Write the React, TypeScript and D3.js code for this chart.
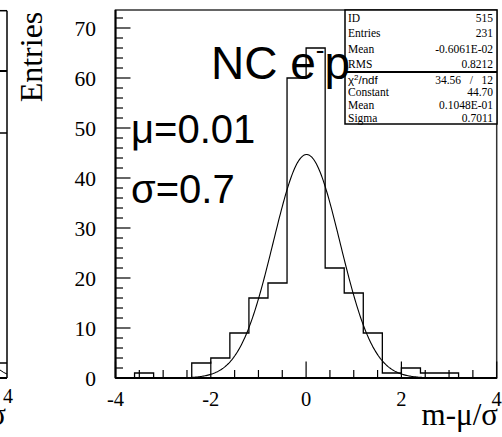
import React from "react";
import * as d3 from "d3";

const binLow = [-4.0, -3.6, -3.2, -2.8, -2.4, -2.0, -1.6, -1.2, -0.8, -0.4, 0.0, 0.4, 0.8, 1.2, 1.6, 2.0, 2.4, 2.8, 3.2, 3.6];
const counts = [0, 1, 0, 0, 3, 4, 9, 16, 19, 60, 66, 22, 17, 9, 1, 2, 1, 1, 0, 0];
const binWidth = 0.4;
const xTickLabels = [-4, -2, 0, 2, 4];
const yTickLabels = [0, 10, 20, 30, 40, 50, 60, 70];
const fitParams = [44.70, 0.01048, 0.7011];
const statLabels = ["ID", "Entries", "Mean", "RMS"];
const statValues = ["515", "231", "-0.6061E-02", "0.8212"];
const fitLabels = ["Constant", "Mean", "Sigma"];
const fitValues = ["44.70", "0.1048E-01", "0.7011"];

const SERIF = "'Liberation Serif', 'DejaVu Serif', serif";
const SANS = "'Liberation Sans', Arial, sans-serif";

export default function App() {
  const x = d3.scaleLinear().domain([-4, 4]).range([115.5, 496.7]);
  const y = d3.scaleLinear().domain([0, 73.6]).range([378, 10]);

  let histD = `M${x(-4)},${y(0)}`;
  binLow.forEach((lo, i) => {
    histD += `L${x(lo)},${y(counts[i])}L${x(lo + binWidth)},${y(counts[i])}`;
  });
  histD += `L${x(4)},${y(0)}`;

  const [C, mu, sig] = fitParams;
  const xs = d3.range(-4, 4.0001, 0.02);
  const gauss = d3
    .line<number>()
    .x((v) => x(v))
    .y((v) => y(C * Math.exp(-0.5 * ((v - mu) / sig) ** 2)));

  const xMinor = d3.range(-4, 4.0001, 0.5);
  const yMinor = d3.range(0, 73, 2);

  const boxL = 345, boxR = 497, boxT = 10, boxSep = 72, boxB = 124;
  const topRow = (boxSep - boxT) / 4;
  const botRow = (boxB - boxSep) / 4;
  const fs = 11.5;

  return (
    <svg width={502} height={437} style={{ position: "absolute", left: 0, top: 0, background: "#fff" }}>
      <rect x={0} y={0} width={502} height={437} fill="#fff" />
      {/* partial neighbouring panel */}
      <g stroke="#000" strokeWidth={1.5} fill="none">
        <line x1={7} y1={10.7} x2={7} y2={378} />
        <line x1={0} y1={10.7} x2={7} y2={10.7} />
        <line x1={0} y1={71} x2={7} y2={71} strokeWidth={2} />
        <line x1={0} y1={133} x2={7} y2={133} />
        <line x1={0} y1={363} x2={7} y2={363} />
        <line x1={0} y1={378} x2={7} y2={378} strokeWidth={2} />
        <path d="M0,370 Q4,373 7,374" strokeWidth={1} />
      </g>
      <text x={8} y={403} fontFamily={SERIF} fontSize={20} textAnchor="middle">4</text>
      <text x={6} y={425} fontFamily={SERIF} fontSize={31} textAnchor="end">m-μ/σ</text>

      {/* y title */}
      <text
        transform="translate(42,57) rotate(-90)"
        fontFamily={SERIF}
        fontSize={32}
        textAnchor="middle"
      >
        Entries
      </text>

      {/* frame */}
      <rect x={x(-4)} y={y(73.6)} width={x(4) - x(-4)} height={y(0) - y(73.6)} fill="none" stroke="#333" strokeWidth={1.5} />

      {/* y ticks */}
      <g stroke="#000" strokeWidth={1.2}>
        {yMinor.map((v) => (
          <line key={v} x1={x(-4)} x2={x(-4) + (v % 10 === 0 ? 15 : 7.5)} y1={y(v)} y2={y(v)} />
        ))}
      </g>
      {yTickLabels.map((v) => (
        <text key={v} x={96} y={y(v)} dy="0.35em" fontFamily={SERIF} fontSize={21.5} textAnchor="end">
          {v}
        </text>
      ))}

      {/* x ticks */}
      <g stroke="#000" strokeWidth={1.2}>
        {xMinor.map((v) => (
          <line key={v} x1={x(v)} x2={x(v)} y1={y(0)} y2={y(0) - (v % 2 === 0 ? 16.5 : 8)} />
        ))}
      </g>
      {xTickLabels.map((v) => (
        <text key={v} x={x(v)} y={406} fontFamily={SERIF} fontSize={20.5} textAnchor="middle">
          {v < 0 ? `-${Math.abs(v)}` : v}
        </text>
      ))}
      <text x={498} y={425} fontFamily={SERIF} fontSize={31} textAnchor="end">m-μ/σ</text>

      {/* axes */}
      <line x1={x(-4)} x2={x(4)} y1={y(0)} y2={y(0)} stroke="#000" strokeWidth={2} />
      <line x1={x(-4)} x2={x(-4)} y1={y(0)} y2={y(73.6)} stroke="#000" strokeWidth={2} />

      {/* stats box */}
      <rect x={boxL} y={boxT} width={boxR - boxL} height={boxB - boxT} fill="#fff" stroke="#000" strokeWidth={1.5} />
      <line x1={boxL} x2={boxR} y1={boxSep} y2={boxSep} stroke="#000" strokeWidth={2} />
      {statLabels.map((s, i) => (
        <g key={s + i} fontFamily={SERIF} fontSize={fs}>
          <text x={boxL + 3} y={boxT + topRow * (i + 0.5)} dy="0.35em">{s}</text>
          <text x={boxR - 4} y={boxT + topRow * (i + 0.5)} dy="0.35em" textAnchor="end">{statValues[i]}</text>
        </g>
      ))}
      <g fontSize={fs}>
        <text x={boxL + 3} y={boxSep + botRow * 0.5 + 1} dy="0.35em" fontFamily={SANS}>
          χ<tspan dy={-3.5} fontSize={8}>2</tspan><tspan dy={3.5}>/ndf</tspan>
        </text>
        <text x={boxR - 4} y={boxSep + botRow * 0.5 + 1} dy="0.35em" textAnchor="end" fontFamily={SERIF} xmlSpace="preserve">
          34.56   /   12
        </text>
      </g>
      {fitLabels.map((s, i) => (
        <g key={s + i} fontFamily={SERIF} fontSize={fs}>
          <text x={boxL + 3} y={boxSep + botRow * (i + 1.5) + 0.5} dy="0.35em">{s}</text>
          <text x={boxR - 4} y={boxSep + botRow * (i + 1.5) + 0.5} dy="0.35em" textAnchor="end">{fitValues[i]}</text>
        </g>
      ))}

      {/* histogram and fit */}
      <path d={histD} fill="none" stroke="#000" strokeWidth={1.3} />
      <path d={gauss(xs) || ""} fill="none" stroke="#000" strokeWidth={1.1} />

      {/* annotations */}
      <text x={211} y={79} fontFamily={SANS} fontSize={46}>
        NC e<tspan fontSize={26} dy={-20}>-</tspan><tspan dy={20}>p</tspan>
      </text>
      <text x={131} y={143} fontFamily={SANS} fontSize={40}>μ=0.01</text>
      <text x={131} y={203} fontFamily={SANS} fontSize={40}>σ=0.7</text>
    </svg>
  );
}
